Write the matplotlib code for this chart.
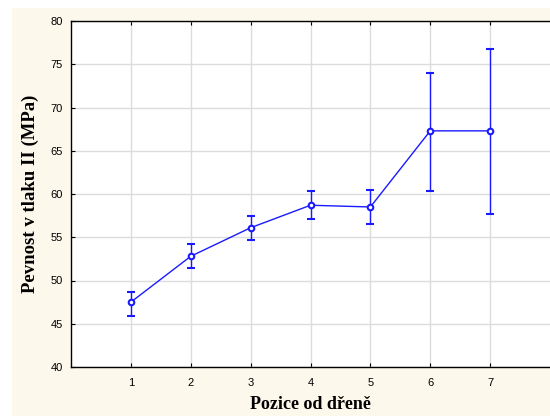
import matplotlib.pyplot as plt
from matplotlib.patches import Rectangle

positions = [1, 2, 3, 4, 5, 6, 7]
means = [47.5, 52.8, 56.1, 58.7, 58.5, 67.3, 67.3]
upper = [48.7, 54.2, 57.4, 60.3, 60.5, 74.0, 76.8]
lower = [45.9, 51.5, 54.7, 57.1, 56.5, 60.4, 57.7]

err_low = [m - l for m, l in zip(means, lower)]
err_high = [u - m for u, m in zip(upper, means)]

fig = plt.figure(figsize=(5.5, 4.16), dpi=100, facecolor='white')
# cream background panel
fig.patches.append(Rectangle((12 / 550, 0), 1, 1 - 8 / 416, transform=fig.transFigure,
                             facecolor='#fdf8ec', edgecolor='none', zorder=-1))

ax = fig.add_axes([71 / 550, 49 / 416, 479 / 550, 346 / 416])
ax.set_facecolor('white')

blue = '#1a1aff'
ax.errorbar(positions, means, yerr=[err_low, err_high], color=blue, lw=1,
            marker='o', markersize=4, markerfacecolor='white', markeredgecolor=blue,
            markeredgewidth=1.5, capsize=3, elinewidth=1, capthick=1, zorder=3)

ax.set_xlim(0, 8)
ax.set_ylim(40, 80)
ax.set_xticks(positions)
ax.set_yticks(range(40, 81, 5))
ax.grid(True, color='#dcdcdc', lw=1)
ax.set_axisbelow(True)

ax.spines['right'].set_visible(False)
for side in ['left', 'bottom', 'top']:
    ax.spines[side].set_linewidth(1)

ax.tick_params(axis='both', direction='in', length=3, labelsize=8,
               top=True, labelfontfamily='Liberation Sans', pad=8)
ax.tick_params(axis='y', pad=6)

ax.set_xlabel('Pozice od dřeně', fontsize=13, fontweight='bold',
              fontfamily='Liberation Serif', labelpad=6)
ax.set_ylabel('Pevnost v tlaku II (MPa)', fontsize=13.5, fontweight='bold',
              fontfamily='Liberation Serif', labelpad=8)

fig.savefig('out.png', dpi=100, facecolor=fig.get_facecolor())
